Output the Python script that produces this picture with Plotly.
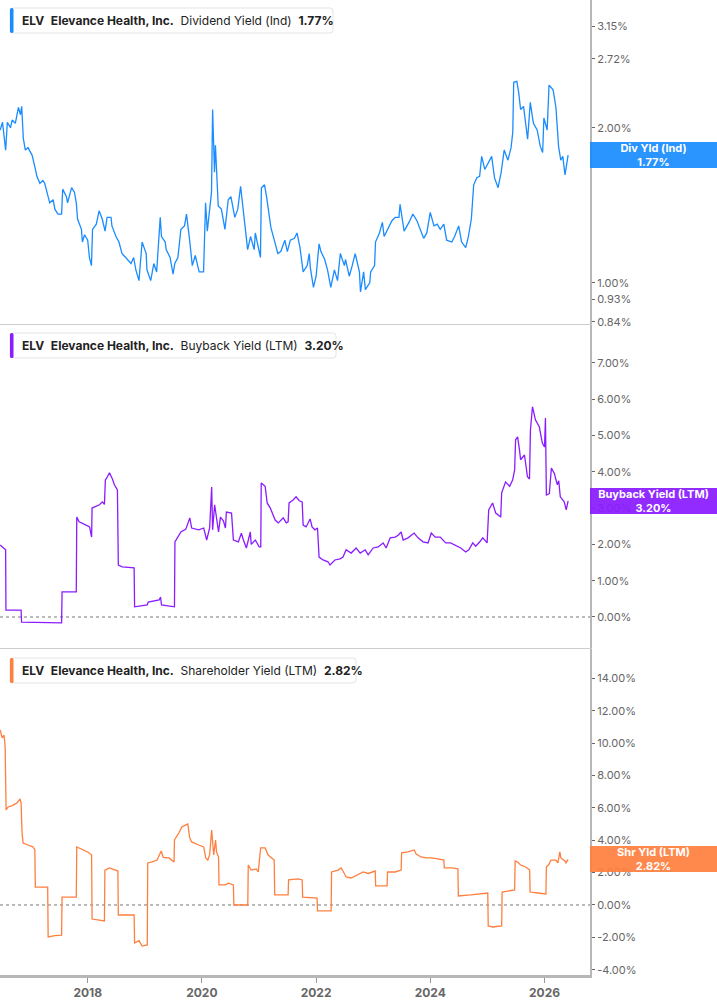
import math
import plotly.graph_objects as go

# ---------------- data ----------------
div_dates = [
    "2016-06-20", "2016-07-05", "2016-07-25", "2016-08-05", "2016-08-25", "2016-09-05", "2016-09-25",
    "2016-10-15", "2016-10-28", "2016-11-05", "2016-11-15", "2016-11-28", "2016-12-15", "2016-12-28",
    "2017-01-10", "2017-01-28", "2017-02-10", "2017-03-01", "2017-03-20", "2017-04-01", "2017-04-20",
    "2017-05-03", "2017-05-25", "2017-06-05", "2017-06-25", "2017-07-18", "2017-07-25", "2017-08-18",
    "2017-08-25", "2017-09-20", "2017-10-08", "2017-10-20", "2017-10-28", "2017-11-22", "2017-11-28",
    "2017-12-12", "2018-01-01", "2018-01-12", "2018-01-25", "2018-02-01", "2018-02-25", "2018-03-15",
    "2018-04-04", "2018-04-22", "2018-05-05", "2018-05-30", "2018-06-05", "2018-07-01", "2018-07-20",
    "2018-08-08", "2018-09-01", "2018-10-05", "2018-10-22", "2018-11-05", "2018-11-25", "2018-12-15",
    "2019-01-10", "2019-01-15", "2019-02-08", "2019-02-28", "2019-03-18", "2019-04-10", "2019-04-18",
    "2019-05-12", "2019-05-18", "2019-06-12", "2019-07-01", "2019-07-12", "2019-08-01", "2019-08-20",
    "2019-09-12", "2019-09-25", "2019-10-15", "2019-11-01", "2019-11-20", "2019-12-15", "2020-01-12",
    "2020-01-25", "2020-02-05", "2020-02-25", "2020-03-03", "2020-03-10", "2020-03-22", "2020-03-28",
    "2020-04-15", "2020-05-05", "2020-05-28", "2020-06-18", "2020-07-05", "2020-07-30", "2020-08-18",
    "2020-09-05", "2020-09-30", "2020-10-20", "2020-11-08", "2020-12-01", "2020-12-08", "2021-01-10",
    "2021-01-16", "2021-02-05", "2021-02-18", "2021-03-12", "2021-03-18", "2021-04-12", "2021-05-01",
    "2021-05-20", "2021-06-15", "2021-07-01", "2021-07-20", "2021-08-15", "2021-09-01", "2021-09-20",
    "2021-10-10", "2021-11-05", "2021-11-18", "2021-11-25", "2021-12-15", "2022-01-01", "2022-01-20",
    "2022-02-01", "2022-02-25", "2022-03-15", "2022-04-05", "2022-04-28", "2022-05-18", "2022-06-05",
    "2022-07-01", "2022-07-08", "2022-08-01", "2022-08-20", "2022-09-08", "2022-10-05", "2022-10-12",
    "2022-11-01", "2022-11-12", "2022-12-10", "2022-12-16", "2023-01-10", "2023-01-16", "2023-02-10",
    "2023-03-01", "2023-03-12", "2023-04-15", "2023-05-01", "2023-05-22", "2023-06-15", "2023-06-22",
    "2023-07-18", "2023-08-18", "2023-09-12", "2023-10-08", "2023-10-25", "2023-11-20", "2023-12-10",
    "2024-01-01", "2024-01-25", "2024-02-15", "2024-03-05", "2024-03-28", "2024-04-15", "2024-05-18",
    "2024-06-05", "2024-07-01", "2024-07-20", "2024-08-15", "2024-09-01", "2024-09-20", "2024-10-05",
    "2024-10-25", "2024-11-12", "2024-11-25", "2024-12-15", "2025-01-10", "2025-01-28", "2025-02-15",
    "2025-03-10", "2025-03-30", "2025-04-18", "2025-05-12", "2025-06-01", "2025-06-12", "2025-06-18",
    "2025-07-08", "2025-07-20", "2025-08-01", "2025-08-20", "2025-09-15", "2025-10-02", "2025-10-22",
    "2025-11-15", "2025-12-05", "2025-12-20", "2025-12-28", "2026-01-18", "2026-01-30", "2026-02-25",
    "2026-03-15", "2026-04-01", "2026-04-15", "2026-04-28", "2026-05-12", "2026-06-01",
]
div_yield = [
    1.98, 2.05, 1.81, 2.05, 2.00, 2.07, 2.04,
    2.19, 2.12, 2.20, 1.91, 1.81, 1.83, 1.80,
    1.77, 1.68, 1.61, 1.56, 1.58, 1.56, 1.47,
    1.43, 1.45, 1.39, 1.36, 1.36, 1.52, 1.47,
    1.43, 1.53, 1.50, 1.43, 1.33, 1.27, 1.20,
    1.24, 1.21, 1.12, 1.08, 1.27, 1.30, 1.38,
    1.33, 1.26, 1.34, 1.34, 1.29, 1.23, 1.20,
    1.14, 1.12, 1.09, 1.12, 1.06, 1.01, 1.20,
    1.14, 1.06, 1.01, 1.09, 1.05, 1.34, 1.23,
    1.20, 1.16, 1.12, 1.04, 1.09, 1.12, 1.27,
    1.29, 1.36, 1.21, 1.08, 1.13, 1.05, 1.05,
    1.43, 1.26, 1.47, 1.50, 2.17, 1.64, 1.85,
    1.41, 1.39, 1.27, 1.45, 1.47, 1.34, 1.39,
    1.54, 1.31, 1.16, 1.23, 1.16, 1.25, 1.12,
    1.53, 1.55, 1.47, 1.29, 1.28, 1.20, 1.14,
    1.15, 1.21, 1.15, 1.21, 1.22, 1.25, 1.17,
    1.05, 1.08, 1.14, 1.07, 0.98, 1.03, 1.19,
    1.15, 1.11, 1.06, 0.98, 1.06, 1.01, 1.14,
    1.08, 1.11, 1.03, 1.08, 1.14, 1.05, 0.96,
    1.05, 0.97, 1.00, 1.05, 1.08, 1.20, 1.25,
    1.31, 1.23, 1.29, 1.32, 1.34, 1.34, 1.42,
    1.26, 1.31, 1.36, 1.32, 1.28, 1.22, 1.25,
    1.37, 1.29, 1.30, 1.27, 1.30, 1.21, 1.20,
    1.23, 1.29, 1.20, 1.17, 1.23, 1.33, 1.55,
    1.60, 1.61, 1.76, 1.66, 1.72, 1.76, 1.60,
    1.53, 1.64, 1.81, 1.73, 1.83, 1.96, 2.45,
    2.46, 2.34, 2.17, 2.20, 1.90, 2.24, 2.04,
    1.98, 1.84, 1.79, 2.09, 1.98, 2.42, 2.37,
    2.19, 1.84, 1.73, 1.76, 1.62, 1.77,
]

bb_dates = [
    "2016-06-20", "2016-07-09", "2016-07-25", "2016-07-27", "2016-11-01", "2016-11-04", "2017-07-18",
    "2017-07-21", "2017-10-20", "2017-10-23", "2017-11-07", "2017-12-12", "2018-01-13", "2018-01-26",
    "2018-01-29", "2018-03-17", "2018-04-05", "2018-04-18", "2018-04-24", "2018-05-07", "2018-05-20",
    "2018-06-08", "2018-06-21", "2018-07-10", "2018-07-16", "2018-08-10", "2018-10-25", "2018-10-28",
    "2019-01-17", "2019-01-23", "2019-04-03", "2019-04-12", "2019-04-18", "2019-07-10", "2019-07-13",
    "2019-08-20", "2019-09-21", "2019-10-16", "2019-10-28", "2019-12-12", "2020-01-13", "2020-02-01",
    "2020-02-20", "2020-03-04", "2020-03-10", "2020-03-23", "2020-04-04", "2020-04-17", "2020-04-29",
    "2020-05-18", "2020-05-31", "2020-06-06", "2020-07-09", "2020-07-21", "2020-08-22", "2020-09-10",
    "2020-09-23", "2020-10-12", "2020-11-06", "2020-11-12", "2020-12-08", "2021-01-02", "2021-01-12",
    "2021-01-15", "2021-02-09", "2021-02-22", "2021-03-14", "2021-04-14", "2021-05-04", "2021-06-05",
    "2021-06-24", "2021-07-06", "2021-07-12", "2021-08-07", "2021-08-26", "2021-09-15", "2021-10-04",
    "2021-10-10", "2021-10-29", "2021-11-24", "2021-12-06", "2021-12-25", "2022-01-10", "2022-01-20",
    "2022-02-14", "2022-03-18", "2022-03-31", "2022-05-01", "2022-06-03", "2022-06-22", "2022-07-12",
    "2022-08-13", "2022-09-14", "2022-10-10", "2022-11-11", "2022-11-30", "2023-01-01", "2023-02-02",
    "2023-03-06", "2023-03-25", "2023-04-20", "2023-05-22", "2023-06-10", "2023-06-29", "2023-07-12",
    "2023-08-12", "2023-09-20", "2023-10-15", "2023-11-16", "2023-12-18", "2024-01-08", "2024-02-02",
    "2024-03-05", "2024-04-09", "2024-05-10", "2024-06-12", "2024-07-14", "2024-08-15", "2024-09-04",
    "2024-09-29", "2024-10-18", "2024-11-13", "2024-12-02", "2024-12-30", "2025-01-09", "2025-02-03",
    "2025-02-23", "2025-03-27", "2025-04-02", "2025-04-27", "2025-05-23", "2025-06-11", "2025-06-24",
    "2025-06-30", "2025-07-13", "2025-07-25", "2025-08-01", "2025-08-26", "2025-09-14", "2025-09-27",
    "2025-10-03", "2025-10-16", "2025-10-28", "2025-11-04", "2025-11-29", "2025-12-18", "2026-01-01",
    "2026-01-07", "2026-01-13", "2026-02-01", "2026-02-14", "2026-03-05", "2026-03-24", "2026-04-02",
    "2026-04-12", "2026-05-07", "2026-05-20", "2026-06-01",
]
bb_yield = [
    1.98, 1.90, 1.85, 0.19, 0.19, -0.14, -0.16,
    0.69, 0.69, 2.75, 2.62, 2.55, 2.48, 2.20,
    3.00, 3.09, 3.17, 3.10, 3.77, 3.86, 3.97,
    3.80, 3.64, 3.50, 1.43, 1.38, 1.35, 0.28,
    0.33, 0.41, 0.47, 0.55, 0.33, 0.28, 2.07,
    2.34, 2.42, 2.73, 2.45, 2.40, 2.45, 2.12,
    2.45, 3.58, 2.40, 3.09, 2.70, 2.34, 2.75,
    2.65, 2.45, 2.89, 2.86, 2.12, 2.07, 2.31,
    2.12, 1.90, 2.34, 2.00, 2.12, 1.93, 1.93,
    3.69, 3.60, 3.14, 3.00, 2.67, 2.59, 2.73,
    2.59, 2.62, 3.14, 3.22, 3.31, 3.20, 3.17,
    2.53, 2.48, 2.70, 2.48, 2.40, 2.45, 1.65,
    1.57, 1.52, 1.43, 1.57, 1.60, 1.65, 1.85,
    1.76, 1.90, 1.76, 1.85, 1.71, 1.90, 1.93,
    2.04, 1.90, 2.18, 2.20, 2.25, 2.34, 2.12,
    2.18, 2.31, 2.18, 2.07, 2.04, 2.31, 2.20,
    2.20, 2.04, 2.04, 1.98, 1.90, 1.79, 1.85,
    2.04, 1.95, 2.07, 2.18, 2.04, 2.95, 3.14,
    2.86, 2.75, 3.42, 3.72, 3.60, 3.77, 4.05,
    4.88, 4.96, 4.60, 4.33, 4.46, 3.86, 3.80,
    5.15, 5.79, 5.60, 5.43, 5.23, 4.79, 4.68,
    5.48, 3.36, 3.40, 4.10, 3.95, 3.64, 3.75,
    3.31, 3.17, 2.95, 3.20,
]

sh_dates = [
    "2016-06-20", "2016-07-03", "2016-07-15", "2016-07-22", "2016-07-28", "2016-08-10", "2016-09-05",
    "2016-10-06", "2016-10-25", "2016-11-01", "2016-11-07", "2016-11-14", "2016-12-15", "2017-01-15",
    "2017-01-28", "2017-01-31", "2017-04-20", "2017-04-23", "2017-06-05", "2017-07-18", "2017-07-21",
    "2017-10-20", "2017-10-23", "2017-11-30", "2018-01-01", "2018-01-26", "2018-01-29", "2018-04-18",
    "2018-04-21", "2018-05-20", "2018-06-21", "2018-07-13", "2018-07-16", "2018-10-25", "2018-10-28",
    "2018-11-25", "2018-12-15", "2019-01-17", "2019-01-20", "2019-02-18", "2019-03-21", "2019-04-16",
    "2019-04-29", "2019-06-05", "2019-07-07", "2019-07-10", "2019-08-07", "2019-08-26", "2019-09-21",
    "2019-10-03", "2019-10-16", "2019-10-28", "2019-12-12", "2020-01-13", "2020-01-26", "2020-02-08",
    "2020-02-20", "2020-03-04", "2020-03-17", "2020-03-29", "2020-04-04", "2020-04-17", "2020-04-20",
    "2020-05-31", "2020-06-19", "2020-07-21", "2020-07-24", "2020-10-21", "2020-10-24", "2020-11-12",
    "2020-12-14", "2020-12-27", "2021-01-11", "2021-02-09", "2021-02-28", "2021-03-20", "2021-04-08",
    "2021-04-11", "2021-07-06", "2021-07-09", "2021-09-08", "2021-10-04", "2021-10-07", "2022-01-07",
    "2022-01-10", "2022-04-07", "2022-04-10", "2022-05-21", "2022-06-10", "2022-06-22", "2022-07-12",
    "2022-08-13", "2022-09-27", "2022-10-29", "2022-11-30", "2023-01-14", "2023-01-17", "2023-03-31",
    "2023-04-03", "2023-05-22", "2023-06-29", "2023-07-02", "2023-08-12", "2023-09-20", "2023-10-03",
    "2023-11-03", "2023-12-05", "2024-01-06", "2024-02-20", "2024-03-28", "2024-03-31", "2024-05-18",
    "2024-06-26", "2024-06-29", "2024-09-17", "2025-01-03", "2025-01-06", "2025-02-04", "2025-04-02",
    "2025-04-05", "2025-05-10", "2025-06-24", "2025-06-27", "2025-07-13", "2025-08-01", "2025-09-03",
    "2025-09-28", "2025-10-01", "2025-11-19", "2026-01-10", "2026-01-13", "2026-01-29", "2026-02-11",
    "2026-03-15", "2026-03-28", "2026-04-09", "2026-04-16", "2026-05-11", "2026-05-18", "2026-06-01",
]
sh_yield = [
    10.82, 10.33, 10.50, 9.77, 5.88, 6.06, 6.15,
    6.31, 6.56, 6.30, 4.45, 3.83, 3.71, 3.60,
    3.40, 1.11, 1.11, -1.98, -1.90, -1.86, 0.49,
    0.49, 3.59, 3.40, 3.28, 3.09, -0.87, -0.99,
    2.16, 2.29, 2.16, 2.10, -0.62, -0.62, -2.35,
    -2.20, -2.54, -2.47, 2.60, 2.66, 2.78, 3.34,
    2.95, 2.91, 2.66, 4.02, 4.45, 4.82, 4.95,
    5.01, 4.14, 3.90, 3.71, 3.59, 2.91, 2.78,
    3.10, 4.64, 3.10, 4.02, 3.28, 2.97, 1.24,
    1.24, 1.35, 1.24, 0.00, 0.00, 2.47, 2.16,
    2.23, 2.04, 3.53, 3.53, 3.09, 2.91, 2.78,
    0.62, 0.62, 1.55, 1.61, 1.55, 0.49, 0.43,
    -0.37, -0.37, 2.04, 2.16, 2.29, 2.10, 1.73,
    1.67, 1.86, 2.04, 1.95, 2.10, 1.18, 1.18,
    2.04, 2.04, 2.16, 3.22, 3.28, 3.40, 3.15,
    2.97, 2.91, 2.91, 2.85, 2.78, 2.29, 2.29,
    2.23, 0.56, 0.62, 0.74, -1.30, -1.36, -1.30,
    0.80, 0.86, 0.93, 2.72, 2.65, 2.47, 2.35,
    2.16, 0.80, 0.74, 0.68, 2.35, 2.50, 2.78,
    2.78, 2.60, 3.28, 2.91, 2.72, 2.60, 2.82,
]

div_ticks = [0.84, 0.93, 1.00, 2.00, 2.72, 3.15]
bb_ticks = [0, 1, 2, 3, 4, 5, 6, 7]
sh_ticks = [-4, -2, 0, 2, 4, 6, 8, 10, 12, 14]
year_ticks = ["2018-01-01", "2020-01-01", "2022-01-01", "2024-01-01", "2026-01-01"]
year_labels = ["2018", "2020", "2022", "2024", "2026"]

ticker = "ELV"
company = "Elevance Health, Inc."
panels = [
    dict(metric="Dividend Yield (Ind)", short="Div Yld (Ind)", last=1.77),
    dict(metric="Buyback Yield (LTM)", short="Buyback Yield (LTM)", last=3.20),
    dict(metric="Shareholder Yield (LTM)", short="Shr Yld (LTM)", last=2.82),
]

# ---------------- style ----------------
BLUE = "#1a8cff"
PURPLE = "#8a1cff"
ORANGE = "#ff7f3f"
W, H = 717, 1005
PR, PB = 590, 975          # plot right / bottom in px
FONT = "Inter, Roboto, Arial, sans-serif"
AXIS_COL = "#b7b7b7"
TICK_COL = "#666666"

def py(p):  # pixel y -> paper
    return (PB - p) / PB

def px(p):
    return p / PR

def rounded_rect(x0, y0, x1, y1, r):
    """SVG path in paper coords for a rounded rect given in pixels."""
    X = lambda v: "%.6f" % px(v)
    Y = lambda v: "%.6f" % py(v)
    return ("M %s,%s L %s,%s Q %s,%s %s,%s L %s,%s Q %s,%s %s,%s L %s,%s Q %s,%s %s,%s "
            "L %s,%s Q %s,%s %s,%s Z") % (
        X(x0 + r), Y(y0), X(x1 - r), Y(y0), X(x1), Y(y0), X(x1), Y(y0 + r),
        X(x1), Y(y1 - r), X(x1), Y(y1), X(x1 - r), Y(y1),
        X(x0 + r), Y(y1), X(x0), Y(y1), X(x0), Y(y1 - r),
        X(x0), Y(y0 + r), X(x0), Y(y0), X(x0 + r), Y(y0))

panel_px = [(0, 324), (325, 648), (649, PB)]
xr = ["2016-06-19", "2026-10-19"]

fig = go.Figure()
fig.add_trace(go.Scatter(x=div_dates, y=div_yield, mode="lines", xaxis="x", yaxis="y",
                         line=dict(color=BLUE, width=1.3), hoverinfo="skip"))
fig.add_trace(go.Scatter(x=bb_dates, y=bb_yield, mode="lines", xaxis="x2", yaxis="y2",
                         line=dict(color=PURPLE, width=1.3), hoverinfo="skip"))
fig.add_trace(go.Scatter(x=sh_dates, y=sh_yield, mode="lines", xaxis="x3", yaxis="y3",
                         line=dict(color=ORANGE, width=1.3), hoverinfo="skip"))

common_y = dict(side="right", showgrid=False, zeroline=False, showline=True, linecolor=AXIS_COL,
                linewidth=2, ticks="outside", ticklen=3, tickwidth=1, tickcolor=TICK_COL,
                tickfont=dict(family=FONT, size=11, color=TICK_COL), fixedrange=True)
common_x = dict(type="date", range=xr, showgrid=False, zeroline=False, showline=True,
                linecolor="#cccccc", linewidth=1, showticklabels=False, ticks="", fixedrange=True)

fig.update_layout(
    width=W, height=H,
    margin=dict(l=0, r=W - PR, t=0, b=H - PB, pad=0),
    paper_bgcolor="white", plot_bgcolor="white",
    showlegend=False,
    font=dict(family=FONT),
    xaxis=dict(domain=[0, 1], anchor="y", **common_x),
    xaxis2=dict(domain=[0, 1], anchor="y2", **common_x),
    xaxis3=dict(domain=[0, 1], anchor="y3", **{**common_x,
                                               "showticklabels": True, "ticks": "outside",
                                               "ticklen": 5, "tickcolor": "#999999",
                                               "linecolor": AXIS_COL, "linewidth": 2.5,
                                               "tickvals": year_ticks,
                                               "ticktext": ["<b>%s</b>" % t for t in year_labels],
                                               "tickfont": dict(family=FONT, size=12, color=TICK_COL)}),
    yaxis=dict(domain=[py(panel_px[0][1]), py(panel_px[0][0])], anchor="x", type="log",
               range=[math.log10(0.832), math.log10(3.54)],
               tickvals=div_ticks, ticktext=["%.2f%%" % v for v in div_ticks], **common_y),
    yaxis2=dict(domain=[py(panel_px[1][1]), py(panel_px[1][0])], anchor="x2",
                range=[-0.854, 8.04],
                tickvals=bb_ticks, ticktext=["%.2f%%" % v for v in bb_ticks], **common_y),
    yaxis3=dict(domain=[py(panel_px[2][1]), py(panel_px[2][0])], anchor="x3",
                range=[-4.33, 15.83],
                tickvals=sh_ticks, ticktext=["%.2f%%" % v for v in sh_ticks], **common_y),
)

shapes = []
annotations = []
# dotted zero lines
for yref in ["y2", "y3"]:
    shapes.append(dict(type="line", xref="paper", yref=yref, x0=0, x1=1, y0=0, y1=0,
                       line=dict(color="#777777", width=1, dash="dot"), layer="below"))

# legend boxes
legend_boxes = [(8, 33, 333), (333, 358, 336), (658, 683, 356)]
colors = [BLUE, PURPLE, ORANGE]
for (top, bot, right), col, p in zip(legend_boxes, colors, panels):
    shapes.append(dict(type="path", xref="paper", yref="paper",
                       path=rounded_rect(10, top, right, bot, 3), fillcolor="white",
                       line=dict(color="#e4e4e4", width=1), layer="above"))
    shapes.append(dict(type="path", xref="paper", yref="paper",
                       path=rounded_rect(10, top, 13.5, bot, 1.5), fillcolor=col,
                       line=dict(width=0), layer="above"))
    annotations.append(dict(
        xref="paper", yref="paper", x=px(20), y=py((top + bot) / 2), xanchor="left", yanchor="middle",
        showarrow=False,
        text="<b>%s</b>  <b>%s</b>  %s  <b>%.2f%%</b>" % (ticker, company, p["metric"], p["last"]),
        font=dict(family=FONT, size=12, color="#222222")))

# right-side value labels
yrefs = ["y", "y2", "y3"]
for yref, col, p in zip(yrefs, colors, panels):
    yv = math.log10(p["last"]) if yref == "y" else p["last"]
    annotations.append(dict(
        xref="paper", yref=yref, x=1, y=yv, xanchor="left", yanchor="middle", showarrow=False,
        text="<b>%s</b><br><b>%.2f%%</b>" % (p["short"], p["last"]),
        font=dict(family=FONT, size=11, color="white"),
        bgcolor=col, opacity=0.93, width=W - PR, height=26, borderpad=0, borderwidth=0,
        align="center"))

fig.update_layout(shapes=shapes, annotations=annotations)
fig.write_html("out.html", config={"displayModeBar": False, "staticPlot": True})
